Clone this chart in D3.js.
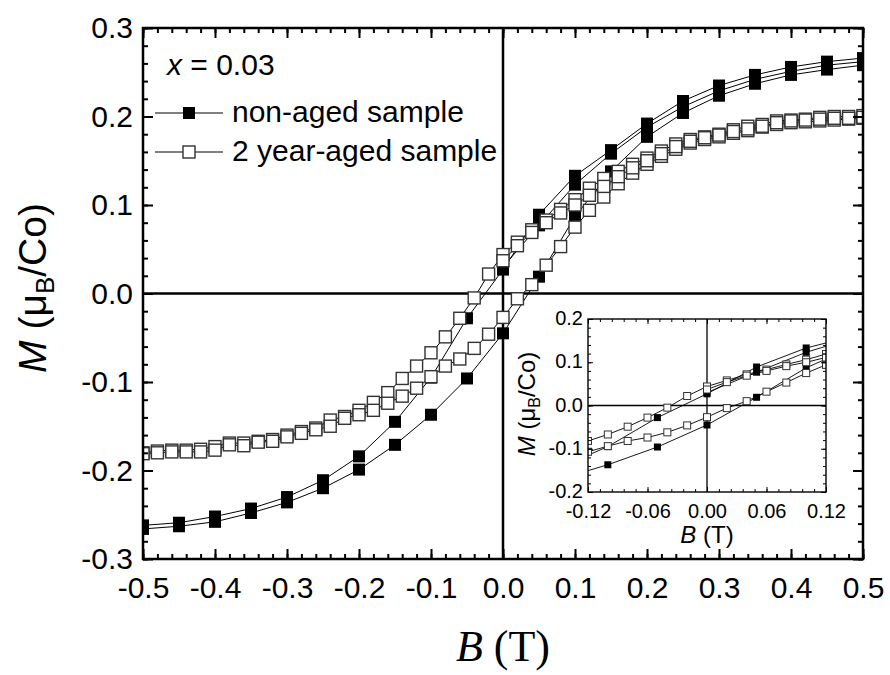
<!DOCTYPE html>
<html>
<head>
<meta charset="UTF-8">
<script src="https://d3js.org/d3.v7.min.js"></script>
<style>
    body { margin: 0; background: #fff; }
    svg text { font-family: "Liberation Sans", Arial, sans-serif; fill: #000; }
</style>
</head>
<body>
<svg id="canvas" width="890" height="675"></svg>
<script>
    // field values (T)
    var fieldNonAged = [-0.5, -0.45, -0.4, -0.35, -0.3, -0.25, -0.2, -0.15, -0.1, -0.05, 0,
        0.05, 0.1, 0.15, 0.2, 0.25, 0.3, 0.35, 0.4, 0.45, 0.5];
    var fieldAged = [-0.5, -0.48, -0.46, -0.44, -0.42, -0.4, -0.38, -0.36, -0.34, -0.32, -0.3,
        -0.28, -0.26, -0.24, -0.22, -0.2, -0.18, -0.16, -0.14, -0.12, -0.1, -0.08, -0.06, -0.04, -0.02, 0,
        0.02, 0.04, 0.06, 0.08, 0.1, 0.12, 0.14, 0.16, 0.18, 0.2, 0.22, 0.24, 0.26, 0.28, 0.3,
        0.32, 0.34, 0.36, 0.38, 0.4, 0.42, 0.44, 0.46, 0.48, 0.5];

    // non-aged sample, M (muB/Co), listed in field order
    var nonAgedDown = [-0.262, -0.259, -0.252, -0.243, -0.230, -0.211, -0.184, -0.145, -0.095, -0.028, 0.027,
        0.089, 0.133, 0.162, 0.192, 0.2175, 0.235, 0.247, 0.256, 0.262, 0.266];
    var nonAgedUp = [-0.266, -0.263, -0.258, -0.248, -0.236, -0.220, -0.199, -0.171, -0.137, -0.096, -0.045,
        0.019, 0.087, 0.138, 0.177, 0.204, 0.2235, 0.237, 0.247, 0.253, 0.258];
    // second branch, only measured from 0 to 0.5 T
    var nonAgedDown2 = [0.030, 0.077, 0.123, 0.158, 0.188, 0.211, 0.229, 0.242, 0.251, 0.258, 0.262];

    // 2 year-aged sample
    var agedDown = [-0.180, -0.178, -0.177, -0.177, -0.176, -0.173, -0.169, -0.169, -0.167, -0.165, -0.160,
        -0.156, -0.152, -0.143, -0.139, -0.132, -0.123, -0.112, -0.096, -0.082, -0.067, -0.049, -0.028, -0.005, 0.022, 0.044,
        0.058, 0.072, 0.083, 0.095, 0.106, 0.119, 0.130, 0.138, 0.146, 0.153, 0.161, 0.169, 0.174, 0.177, 0.180,
        0.185, 0.189, 0.191, 0.195, 0.196, 0.197, 0.199, 0.200, 0.200, 0.201];
    var agedUp = [-0.181, -0.180, -0.179, -0.179, -0.179, -0.177, -0.171, -0.172, -0.168, -0.167, -0.162,
        -0.158, -0.154, -0.150, -0.141, -0.137, -0.132, -0.124, -0.116, -0.107, -0.094, -0.082, -0.074, -0.062, -0.046, -0.027,
        -0.006, 0.010, 0.032, 0.053, 0.075, 0.094, 0.109, 0.124, 0.136, 0.146, 0.155, 0.163, 0.170, 0.174, 0.177,
        0.181, 0.184, 0.188, 0.191, 0.193, 0.194, 0.195, 0.196, 0.197, 0.198];
    var agedDown2 = [0.037, 0.054, 0.069, 0.080, 0.091, 0.100, 0.111, 0.121, 0.132, 0.142, 0.150,
        0.158, 0.166, 0.172, 0.176, 0.179, 0.183, 0.186, 0.189, 0.193, 0.195,
        0.196, 0.197, 0.198, 0.198, 0.199];

    // tick labels
    var xTicks = [-0.5, -0.4, -0.3, -0.2, -0.1, 0, 0.1, 0.2, 0.3, 0.4, 0.5];
    var yTicks = [-0.3, -0.2, -0.1, 0, 0.1, 0.2, 0.3];
    var insetXTicks = [-0.12, -0.06, 0, 0.06, 0.12];
    var insetYTicks = [-0.2, -0.1, 0, 0.1, 0.2];

    var legendNames = ["non-aged sample", "2 year-aged sample"];

    // pair a branch with the tail of its field list
    function pts(field, vals) {
        var f = field.slice(field.length - vals.length);
        return vals.map(function (v, i) { return [f[i], v]; });
    }
    var filledBranches = [pts(fieldNonAged, nonAgedDown), pts(fieldNonAged, nonAgedUp), pts(fieldNonAged, nonAgedDown2)];
    var openBranches = [pts(fieldAged, agedDown), pts(fieldAged, agedUp), pts(fieldAged, agedDown2)];

    function minorVals(lo, hi, step) {
        var out = [], n = Math.round((hi - lo) / step);
        for (var i = 0; i <= n; i++) out.push(lo + i * step);
        return out;
    }

    var svg = d3.select("#canvas");

    function addAxis(g, axisFn, scale, transform, values, len, fmt, pad, fs, tw) {
        var a = g.append("g").attr("transform", transform)
            .call(axisFn(scale).tickValues(values).tickSizeInner(-len).tickSizeOuter(0)
                .tickPadding(pad || 0).tickFormat(fmt || function () { return ""; }));
        a.select(".domain").remove();
        a.attr("font-family", null).attr("font-size", null);
        a.selectAll("line").attr("stroke", "#000").attr("stroke-width", tw);
        a.selectAll("text").attr("font-size", fs + "px");
        return a;
    }

    function drawPanel(o) {
        var g = svg.append("g").attr("transform", "translate(" + o.left + "," + o.top + ")");
        var x = d3.scaleLinear().domain(o.xDomain).range([0, o.w]);
        var y = d3.scaleLinear().domain(o.yDomain).range([o.h, 0]);

        g.append("rect").attr("width", o.w).attr("height", o.h).attr("fill", "#fff");

        g.append("clipPath").attr("id", o.id + "clip")
            .append("rect").attr("width", o.w).attr("height", o.h);

        // zero lines
        g.append("line").attr("x1", x(0)).attr("x2", x(0)).attr("y1", 0).attr("y2", o.h)
            .attr("stroke", "#000").attr("stroke-width", o.zw);
        g.append("line").attr("x1", 0).attr("x2", o.w).attr("y1", y(0)).attr("y2", y(0))
            .attr("stroke", "#000").attr("stroke-width", o.zw);

        var data = g.append("g").attr("clip-path", "url(#" + o.id + "clip)");
        var line = d3.line().x(function (d) { return x(d[0]); }).y(function (d) { return y(d[1]); });
        data.selectAll(".branch")
            .data(filledBranches.concat(openBranches))
            .enter().append("path")
            .attr("class", "branch")
            .attr("d", line)
            .attr("fill", "none").attr("stroke", "#000").attr("stroke-width", o.lw);

        var s = o.ms;
        data.selectAll(".filled")
            .data(d3.merge(filledBranches))
            .enter().append("rect")
            .attr("class", "filled")
            .attr("x", function (d) { return x(d[0]) - s / 2; })
            .attr("y", function (d) { return y(d[1]) - s / 2; })
            .attr("width", s).attr("height", s)
            .attr("fill", "#000");
        data.selectAll(".open")
            .data(d3.merge(openBranches))
            .enter().append("rect")
            .attr("class", "open")
            .attr("x", function (d) { return x(d[0]) - s / 2; })
            .attr("y", function (d) { return y(d[1]) - s / 2; })
            .attr("width", s).attr("height", s)
            .attr("fill", "#fff").attr("stroke", "#333").attr("stroke-width", o.ow);

        // ticks on all four sides, pointing in
        var xm = o.xMinor, ym = o.yMinor;
        [[d3.axisBottom, "translate(0," + o.h + ")"], [d3.axisTop, "translate(0,0)"]].forEach(function (p) {
            addAxis(g, p[0], x, p[1], xm, o.minor, null, 0, o.fs, o.tw);
        });
        [[d3.axisLeft, "translate(0,0)"], [d3.axisRight, "translate(" + o.w + ",0)"]].forEach(function (p) {
            addAxis(g, p[0], y, p[1], ym, o.minor, null, 0, o.fs, o.tw);
        });
        addAxis(g, d3.axisTop, x, "translate(0,0)", o.xTicks, o.major, null, 0, o.fs, o.tw);
        addAxis(g, d3.axisRight, y, "translate(" + o.w + ",0)", o.yTicks, o.major, null, 0, o.fs, o.tw);
        addAxis(g, d3.axisBottom, x, "translate(0," + o.h + ")", o.xTicks, o.major, o.xFmt, o.xPad, o.fs, o.tw);
        var yl = addAxis(g, d3.axisLeft, y, "translate(0,0)", o.yTicks, o.major, o.yFmt, o.yPad, o.fs, o.tw);
        if (o.yDy) yl.selectAll("text").attr("dy", o.yDy);

        g.append("rect").attr("width", o.w).attr("height", o.h)
            .attr("fill", "none").attr("stroke", "#000").attr("stroke-width", o.fw);
        return { g: g, x: x, y: y };
    }

    drawPanel({
        id: "main", left: 143, top: 28, w: 720, h: 531,
        xDomain: [-0.5, 0.5], yDomain: [-0.3, 0.3],
        xTicks: xTicks, yTicks: yTicks,
        xMinor: minorVals(-0.5, 0.5, 0.02), yMinor: minorVals(-0.3, 0.3, 0.02),
        xFmt: function (d) { return d.toFixed(1); }, yFmt: function (d) { return d.toFixed(1); },
        xPad: 18, yPad: 10, fs: 30, major: 10, minor: 5, tw: 2,
        zw: 2.5, fw: 2.5, lw: 1, ms: 12, ow: 1.4
    });

    drawPanel({
        id: "inset", left: 588, top: 319, w: 238, h: 173,
        xDomain: [-0.12, 0.12], yDomain: [-0.2, 0.2],
        xTicks: insetXTicks, yTicks: insetYTicks,
        xMinor: minorVals(-0.12, 0.12, 0.012), yMinor: minorVals(-0.2, 0.2, 0.02),
        xFmt: function (d) { return d.toFixed(2); }, yFmt: function (d) { return d.toFixed(1); },
        xPad: 12, yPad: 5, yDy: "0.28em", fs: 20, major: 5, minor: 3, tw: 1,
        zw: 1.3, fw: 1.4, lw: 0.9, ms: 7, ow: 1
    });

    // axis titles
    svg.append("text")
        .attr("transform", "translate(46,288) rotate(-90)")
        .attr("text-anchor", "middle").attr("font-size", "39px")
        .html('<tspan font-style="italic">M</tspan> (μ<tspan font-size="26px" dy="8">B</tspan><tspan dy="-8">/Co)</tspan>');
    svg.append("text")
        .attr("x", 503).attr("y", 661)
        .attr("text-anchor", "middle").attr("font-size", "44px")
        .style("font-family", '"Liberation Serif", "Times New Roman", serif')
        .html('<tspan font-style="italic">B</tspan> (T)');

    svg.append("text")
        .attr("transform", "translate(535,404) rotate(-90)")
        .attr("text-anchor", "middle").attr("font-size", "24px")
        .html('<tspan font-style="italic">M</tspan> (μ<tspan font-size="16px" dy="5">B</tspan><tspan dy="-5">/Co)</tspan>');
    svg.append("text")
        .attr("x", 707).attr("y", 543)
        .attr("text-anchor", "middle").attr("font-size", "24px")
        .html('<tspan font-style="italic">B</tspan> (T)');

    // legend
    svg.append("text").attr("x", 167).attr("y", 75).attr("font-size", "30px")
        .html('<tspan font-style="italic">x</tspan> = 0.03');
    var leg = svg.selectAll(".leg").data(legendNames).enter().append("g")
        .attr("class", "leg")
        .attr("transform", function (d, i) { return "translate(0," + (113 + i * 39) + ")"; });
    leg.append("line").attr("x1", 155).attr("x2", 223).attr("stroke", "#000").attr("stroke-width", 1);
    leg.append("rect").attr("x", 183).attr("y", -6).attr("width", 12).attr("height", 12)
        .attr("fill", function (d, i) { return i ? "#fff" : "#000"; })
        .attr("stroke", function (d, i) { return i ? "#333" : "none"; })
        .attr("stroke-width", 1.4);
    leg.append("text").attr("x", 232).attr("y", 9).attr("font-size", "30px")
        .text(function (d) { return d; });
</script>
</body>
</html>
